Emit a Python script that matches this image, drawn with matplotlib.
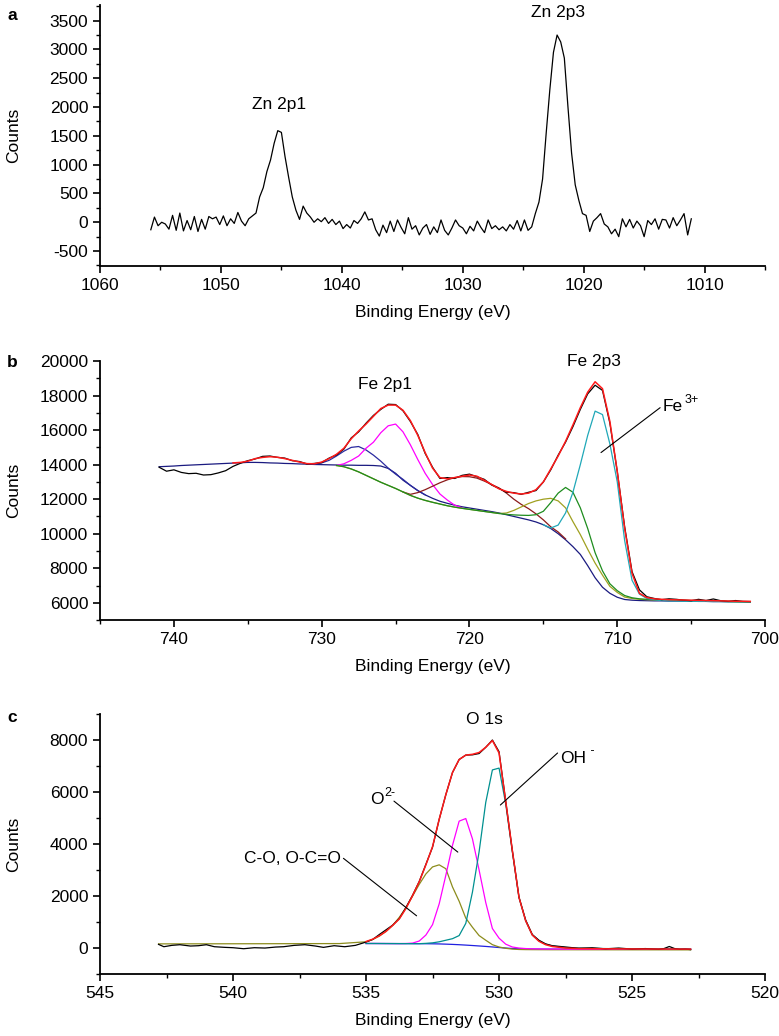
import numpy as np
import matplotlib
matplotlib.use("Agg")
import matplotlib.pyplot as plt
from matplotlib.ticker import MultipleLocator

plt.rcParams['font.family'] = ['Liberation Sans', 'DejaVu Sans']
plt.rcParams['font.size'] = 12
plt.rcParams['axes.unicode_minus'] = False

# ---------------- Panel a : Zn 2p ----------------
a_energy = np.round(1055.8 - 0.3 * np.arange(150), 2)
a_counts = [
    -130, 90, -60, 0, -30, -120, 120, -140, 160, -150,
    30, -130, 100, -160, 50, -120, 100, 60, 90, -40,
    110, -60, 60, -20, 170, 20, -60, 60, 110, 160,
    440, 600, 880, 1080, 1370, 1590, 1560, 1140, 780, 440,
    210, 50, 280, 160, 90, 0, 60, 10, 80, -20,
    50, -40, 20, -110, -40, -100, 30, -20, 60, 180,
    40, 60, -130, -240, -50, -180, 20, -160, 40, -90,
    -200, 80, -120, -60, -220, -100, -40, -210, -80, -180,
    40, -140, -220, -100, 40, -60, -100, -200, -70, -150,
    20, -90, -180, 40, -110, -60, -130, -80, -150, -40,
    -120, 30, -150, 40, -140, -80, 150, 350, 750, 1550,
    2300, 2950, 3250, 3130, 2850, 2000, 1200, 650, 380, 150,
    120, -160, 20, 80, 150, -30, -80, -200, -120, -250,
    60, -80, 50, -100, 20, -60, -250, 30, -40, 60,
    -120, 50, 40, -100, 80, -60, 40, 150, -220, 60,
]

# ---------------- Panel b : Fe 2p ----------------
b_energy = np.round(741 - 0.5 * np.arange(81), 2)          # 741 -> 701
b_raw = [
    13850, 13620, 13700, 13550, 13480, 13500, 13400, 13420, 13520, 13650,
    13900, 14080, 14230, 14330, 14480, 14500, 14420, 14380, 14230, 14180,
    14040, 14070, 14120, 14380, 14560, 14900, 15550, 15900, 16400, 16850,
    17200, 17500, 17480, 17120, 16500, 15750, 14650, 13850, 13200, 13250,
    13200, 13380, 13450, 13300, 13150, 12820, 12620, 12400, 12380, 12280,
    12400, 12500, 13000, 13700, 14550, 15300, 16200, 17200, 18100, 18600,
    18300, 16400, 13600, 10400, 7800, 6750, 6350, 6250, 6180, 6230,
    6200, 6150, 6120, 6200, 6130, 6220, 6120, 6080, 6130, 6080,
    6070,
]
b_background = [
    13880, 13900, 13920, 13950, 13970, 13990, 14010, 14030, 14050, 14070,
    14090, 14110, 14130, 14130, 14120, 14100, 14090, 14070, 14060, 14040,
    14030, 14010, 14000, 13990, 13980, 13970, 13970, 13960, 13960, 13950,
    13920, 13780, 13500, 13100, 12800, 12500, 12250, 12050, 11880, 11760,
    11650, 11560, 11490, 11420, 11350, 11280, 11200, 11100, 11000, 10900,
    10800, 10680, 10520, 10300, 10000, 9650, 9250, 8800, 8150, 7450,
    6900, 6550, 6320, 6190, 6150, 6130, 6120, 6110, 6110, 6100,
    6100, 6090, 6090, 6080, 6080, 6070, 6070, 6060, 6060, 6050,
    6050,
]
b_fit_energy = np.round(736 - 0.5 * np.arange(71), 2)      # 736 -> 701
b_fit = [
    14100, 14130, 14200, 14350, 14420, 14460, 14430, 14350, 14250, 14150,
    14060, 14050, 14150, 14350, 14600, 14950, 15500, 15950, 16350, 16800,
    17250, 17450, 17450, 17150, 16550, 15700, 14700, 13800, 13250, 13180,
    13250, 13330, 13400, 13330, 13100, 12850, 12600, 12450, 12350, 12300,
    12350, 12550, 13000, 13750, 14500, 15350, 16300, 17300, 18200, 18800,
    18400, 16500, 13600, 10300, 7700, 6550, 6300, 6230, 6200, 6180,
    6170, 6160, 6150, 6140, 6130, 6120, 6110, 6100, 6090, 6085,
    6080,
]
b_blue_energy = np.round(731 - 0.5 * np.arange(17), 2)     # 731 -> 723
b_blue = [14030, 14040, 14100, 14250, 14500, 14780, 15000, 15050, 14850,
          14550, 14200, 13800, 13450, 13150, 12800, 12500, 12250]
b_mag_energy = np.round(729 - 0.5 * np.arange(18), 2)      # 729 -> 720.5
b_magenta = [13950, 14050, 14250, 14500, 14950, 15300, 15850, 16250, 16350,
             15900, 15150, 14300, 13500, 12850, 12300, 11950, 11650, 11500]
b_sat_energy = np.round(724.5 - 0.5 * np.arange(23), 2)    # 724.5 -> 713.5
b_satellite = [12420, 12280, 12380, 12550, 12750, 12950, 13120, 13250, 13310,
               13300, 13220, 13050, 12850, 12650, 12350, 12000, 11700, 11450,
               11150, 10800, 10400, 10100, 9700]
b_gr_energy = np.round(729 - 0.5 * np.arange(57), 2)       # 729 -> 701
b_green = [
    13950, 13880, 13750, 13580, 13380, 13180, 12980, 12800, 12620, 12420,
    12220, 12060, 11930, 11820, 11720, 11620, 11540, 11470, 11410, 11350,
    11290, 11230, 11170, 11120, 11090, 11070, 11060, 11100, 11300, 11800,
    12350, 12680, 12400, 11500, 10300, 8900, 7850, 7100, 6700, 6420,
    6290, 6230, 6200, 6180, 6170, 6160, 6150, 6140, 6130, 6120,
    6110, 6100, 6090, 6080, 6070, 6060, 6060,
]
b_olive = [
    13950, 13880, 13750, 13580, 13380, 13180, 12980, 12800, 12620, 12420,
    12220, 12060, 11930, 11820, 11720, 11620, 11540, 11470, 11410, 11350,
    11290, 11230, 11170, 11200, 11350, 11550, 11750, 11900, 12000, 12050,
    11900, 11500, 10700, 9950, 9100, 8300, 7600, 6950, 6600, 6330,
    6250, 6200, 6180, 6170, 6160, 6150, 6140, 6130, 6120, 6110,
    6100, 6090, 6080, 6070, 6060, 6055, 6050,
]
b_teal_energy = np.round(715 - 0.5 * np.arange(29), 2)     # 715 -> 701
b_teal = [10520, 10330, 10500, 11200, 12400, 14000, 15700, 17100, 16900,
          15200, 13000, 9600, 7300, 6500, 6250, 6180, 6130, 6110, 6100,
          6090, 6090, 6080, 6080, 6070, 6070, 6060, 6060, 6050, 6050]

# ---------------- Panel c : O 1s ----------------
c_energy = [535.0, 534.75, 534.5, 534.25, 534.0, 533.75, 533.5, 533.25, 533.0,
            532.75, 532.5, 532.25, 532.0, 531.75, 531.5, 531.25, 531.0, 530.75,
            530.5, 530.25, 530.0, 529.75, 529.5, 529.25, 529.0, 528.75, 528.5,
            528.25, 528.0, 527.5, 527.0, 526.0, 525.0, 524.0, 522.8]
c_background = [175, 175, 174, 173, 172, 171, 170, 169, 168, 166, 163, 158, 150,
                140, 128, 113, 97, 80, 62, 42, 20, 0, -18, -28, -34, -38, -40,
                -41, -42, -43, -44, -45, -46, -47, -48]
c_co = [240, 330, 460, 640, 870, 1180, 1550, 2000, 2450, 2850, 3120, 3200, 3050,
        2350, 1800, 1150, 800, 480, 300, 130, 40, -10, -40, -55, -60, -62, -63,
        -64, -65, -65, -66, -67, -68, -69, -70]
c_co_left_energy = [542.8, 541.0, 539.0, 537.0, 536.0]
c_co_left = [160, 163, 166, 170, 172]
c_o2 = [175, 175, 174, 173, 172, 171, 175, 190, 270, 500, 900, 1700, 2800, 3950,
        4880, 4980, 4200, 3000, 1750, 750, 380, 150, 40, 0, -20, -30, -35, -38,
        -40, -42, -43, -44, -45, -46, -47]
c_oh = [175, 175, 174, 173, 172, 171, 170, 169, 168, 180, 200, 240, 300, 360,
        480, 950, 2150, 3700, 5600, 6850, 6920, 5550, 3700, 1950, 1050, 500, 280,
        150, 80, 20, 0, -20, -30, -35, -40]
c_fit = [250, 340, 470, 640, 870, 1120, 1520, 2020, 2550, 3200, 3900, 4950, 5900,
         6750, 7250, 7420, 7450, 7520, 7720, 7980, 7500, 5650, 3750, 1950, 1050,
         500, 260, 130, 60, 0, -20, -30, -35, -38, -40]
c_raw_energy = [542.8, 542.6, 542.3, 542.0, 541.6, 541.3, 541.0, 540.7, 540.3,
                540.0, 539.6, 539.2, 538.8, 538.4, 538.1, 537.7, 537.3, 536.9,
                536.6, 536.2, 535.8, 535.4,
                535.0, 534.75, 534.5, 534.25, 534.0, 533.75, 533.5, 533.25, 533.0,
                532.75, 532.5, 532.25, 532.0, 531.75, 531.5, 531.25, 531.0, 530.75,
                530.5, 530.25, 530.0, 529.75, 529.5, 529.25, 529.0, 528.75, 528.5,
                528.25, 528.0, 527.5, 527.0,
                526.5, 526.0, 525.5, 525.0, 524.5, 524.0, 523.8, 523.6, 523.4,
                523.2, 523.0, 522.8]
c_raw = [141, 51, 103, 128, 77, 90, 128, 51, 26, 13, -26, 13, 0, 38, 51, 103, 128,
         77, 26, 90, 51, 103,
         230, 330, 520, 700, 880, 1130, 1560, 2030, 2560, 3220, 3880, 4950, 5900,
         6750, 7250, 7420, 7430, 7480, 7720, 8000, 7550, 5650, 3750, 1950, 1080,
         520, 300, 160, 90, 40, -10,
         10, -30, 0, -40, -20, -50, -20, 60, -20, -50, -40, -60]

LW = 0.9
FS = 12.5

fig = plt.figure(figsize=(7.79, 10.36), dpi=100)
ax_a = fig.add_axes([0.1284, 0.7432, 0.8537, 0.2519])
ax_b = fig.add_axes([0.1284, 0.4015, 0.8537, 0.2500])
ax_c = fig.add_axes([0.1284, 0.0598, 0.8537, 0.2510])


def style(ax, xlim, ylim, xmaj, xmin, ymaj, ymin):
    ax.set_xlim(*xlim)
    ax.set_ylim(*ylim)
    ax.xaxis.set_major_locator(MultipleLocator(xmaj))
    ax.xaxis.set_minor_locator(MultipleLocator(xmin))
    ax.yaxis.set_major_locator(MultipleLocator(ymaj))
    ax.yaxis.set_minor_locator(MultipleLocator(ymin))
    for s in ('top', 'right'):
        ax.spines[s].set_visible(False)
    for s in ('left', 'bottom'):
        ax.spines[s].set_linewidth(1.3)
    ax.tick_params(which='major', direction='out', length=5, width=1.2, labelsize=FS)
    ax.tick_params(which='minor', direction='out', length=3, width=1.0)
    ax.set_xlabel('Binding Energy (eV)', fontsize=FS)
    ax.set_ylabel('Counts', fontsize=FS)
    ax.xaxis.set_label_coords(0.5, -0.15)
    ax.yaxis.set_label_coords(-0.118, 0.5)


def sup_label(ax, x, y, base, sup, dx):
    ax.text(x, y, base, ha='left', va='center', fontsize=FS)
    ax.annotate(sup, xy=(x, y), xytext=(dx, 5), textcoords='offset points',
                ha='left', va='center', fontsize=9)


line_kw = dict(arrowstyle='-', lw=0.8, color='black', shrinkA=0, shrinkB=0)

# Panel a
ax_a.plot(a_energy, a_counts, color='black', lw=LW)
style(ax_a, (1060, 1005), (-760, 3770), 10, 5, 500, 250)
ax_a.text(1045.2, 2050, 'Zn 2p1', ha='center', va='center', fontsize=FS)
ax_a.text(1022.1, 3640, 'Zn 2p3', ha='center', va='center', fontsize=FS)

# Panel b
ax_b.plot(b_energy, b_background, color='#1a1a80', lw=LW)
ax_b.plot(b_blue_energy, b_blue, color='#2a2aa0', lw=LW)
ax_b.plot(b_mag_energy, b_magenta, color='#ff00ff', lw=LW)
ax_b.plot(b_sat_energy, b_satellite, color='#8b1a1a', lw=LW)
ax_b.plot(b_gr_energy, b_olive, color='#a0a020', lw=LW)
ax_b.plot(b_gr_energy, b_green, color='#1e8c1e', lw=LW)
ax_b.plot(b_teal_energy, b_teal, color='#20a8b8', lw=LW)
ax_b.plot(b_energy, b_raw, color='black', lw=LW)
ax_b.plot(b_fit_energy, b_fit, color='#ff1a1a', lw=1.1)
style(ax_b, (745, 700), (5000, 20000), 10, 5, 2000, 1000)
ax_b.text(725.7, 18650, 'Fe 2p1', ha='center', va='center', fontsize=FS)
ax_b.text(711.55, 20000, 'Fe 2p3', ha='center', va='center', fontsize=FS)
ax_b.annotate('', xy=(711.1, 14700), xytext=(707.1, 17300), arrowprops=line_kw)
sup_label(ax_b, 706.9, 17350, 'Fe', '3+', 15.5)

# Panel c
ax_c.plot(c_energy, c_background, color='#2020e0', lw=LW)
ax_c.plot(c_co_left_energy + c_energy, c_co_left + c_co, color='#8c8c1c', lw=LW)
ax_c.plot(c_energy, c_o2, color='#ff00ff', lw=LW)
ax_c.plot(c_energy, c_oh, color='#009090', lw=LW)
ax_c.plot(c_raw_energy, c_raw, color='black', lw=LW)
ax_c.plot(c_energy, c_fit, color='#ff1a1a', lw=1.1)
style(ax_c, (545, 520), (-1000, 9000), 5, 2.5, 2000, 1000)
ax_c.text(530.55, 8800, 'O 1s', ha='center', va='center', fontsize=FS)
ax_c.annotate('', xy=(529.95, 5500), xytext=(527.8, 7500), arrowprops=line_kw)
sup_label(ax_c, 527.72, 7300, 'OH', ' -', 19.5)
ax_c.annotate('', xy=(531.55, 3690), xytext=(533.95, 5650), arrowprops=line_kw)
sup_label(ax_c, 534.85, 5700, 'O', '2-', 10.0)
ax_c.annotate('', xy=(533.1, 1240), xytext=(535.85, 3450), arrowprops=line_kw)
ax_c.text(535.95, 3450, 'C-O, O-C=O', ha='right', va='center', fontsize=FS)

# panel letters
for lab, ypix in (('a', 15), ('b', 362), ('c', 718)):
    fig.text(12 / 779, 1 - ypix / 1036, lab, ha='center', va='center',
             fontsize=FS, fontweight='bold')

fig.savefig('out.png', dpi=100)
